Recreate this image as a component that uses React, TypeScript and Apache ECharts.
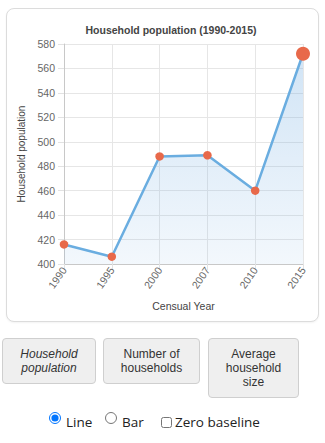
import React, { useEffect, useRef } from "react";
import * as echarts from "echarts";

const categories = ["1990", "1995", "2000", "2007", "2010", "2015"];
const householdPopulation = [416, 406, 488, 489, 460, 572];
const yTicks = { min: 400, max: 580, interval: 20 };
const titleText = "Household population (1990-2015)";
const yAxisName = "Household population";
const xAxisName = "Censual Year";

export default function App() {
  const ref = useRef<HTMLDivElement>(null);

  useEffect(() => {
    if (!ref.current) return;
    const chart = echarts.init(ref.current, null, { renderer: "svg" });
    const lastIdx = householdPopulation.length - 1;
    chart.setOption({
      animation: false,
      textStyle: { fontFamily: "Liberation Sans, Arial, sans-serif" },
      title: {
        text: titleText,
        left: 166,
        top: 19,
        textAlign: "center",
        textStyle: { fontSize: 10.5, fontWeight: "bold", color: "#444", fontFamily: "Liberation Sans, Arial, sans-serif" },
      },
      grid: { left: 64, right: 22, top: 44, bottom: 66, containLabel: false },
      xAxis: {
        type: "category",
        data: categories,
        boundaryGap: false,
        name: xAxisName,
        nameLocation: "middle",
        nameGap: 36,
        nameTextStyle: { fontSize: 10.5, color: "#444" },
        axisLine: { show: true, lineStyle: { color: "#c8c8c8", width: 1 } },
        axisTick: { show: true, length: 6, alignWithLabel: true, lineStyle: { color: "#e2e2e2" } },
        axisLabel: { rotate: 55, fontSize: 10.5, color: "#666", margin: 4, interval: 0 },
        splitLine: { show: true, lineStyle: { color: "#e6e6e6", width: 1 } },
      },
      yAxis: {
        type: "value",
        min: yTicks.min,
        max: yTicks.max,
        interval: yTicks.interval,
        name: yAxisName,
        nameLocation: "middle",
        nameGap: 33,
        nameTextStyle: { fontSize: 10, color: "#444" },
        axisLine: { show: true, lineStyle: { color: "#c8c8c8", width: 1 } },
        axisTick: { show: true, length: 6, lineStyle: { color: "#e2e2e2" } },
        axisLabel: { fontSize: 10.5, color: "#666", margin: 9 },
        splitLine: { show: true, lineStyle: { color: "#e6e6e6", width: 1 } },
      },
      series: [
        {
          type: "line",
          data: householdPopulation.map((v, i) =>
            i === lastIdx ? { value: v, symbolSize: 14 } : { value: v }
          ),
          symbol: "circle",
          symbolSize: 8.5,
          showAllSymbol: true,
          lineStyle: { color: "#6aade0", width: 2.5 },
          itemStyle: { color: "#e8694a", borderWidth: 0 },
          areaStyle: {
            color: new echarts.graphic.LinearGradient(0, 0, 0, 1, [
              { offset: 0, color: "rgba(110,170,225,0.45)" },
              { offset: 1, color: "rgba(110,170,225,0.12)" },
            ]),
          },
          z: 3,
        },
      ],
    });
    return () => chart.dispose();
  }, []);

  const btnBase: React.CSSProperties = {
    position: "absolute",
    top: 338,
    background: "#efefef",
    border: "1px solid #cfcfcf",
    borderRadius: 4,
    fontFamily: "Liberation Sans, Arial, sans-serif",
    fontSize: 12,
    lineHeight: "14px",
    color: "#333",
    padding: "0 6px",
    textAlign: "center",
    boxSizing: "border-box",
  };

  const labelFont: React.CSSProperties = {
    position: "absolute",
    top: 413,
    fontFamily: "Open Sans, Noto Sans, sans-serif",
    fontSize: 13.5,
    lineHeight: "18px",
    color: "#222",
    whiteSpace: "nowrap",
  };

  return (
    <div style={{ position: "absolute", left: 0, top: 0, width: 325, height: 443, background: "#fff", overflow: "hidden" }}>
      <div
        style={{
          position: "absolute",
          left: 6,
          top: 8,
          width: 313,
          height: 314,
          boxSizing: "border-box",
          border: "1px solid #dcdcdc",
          borderRadius: 8,
          background: "#fff",
          boxShadow: "0 1px 2px rgba(0,0,0,0.05)",
        }}
      />
      <div ref={ref} style={{ position: "absolute", left: 0, top: 0, width: 325, height: 330 }} />
      <button style={{ ...btnBase, left: 2, width: 94, height: 46, fontStyle: "italic" }}>
        Household
        <br />
        population
      </button>
      <button style={{ ...btnBase, left: 103, width: 97, height: 46 }}>
        Number of
        <br />
        households
      </button>
      <button style={{ ...btnBase, left: 208, width: 91, height: 60 }}>
        Average
        <br />
        household
        <br />
        size
      </button>
      <input
        type="radio"
        name="mode"
        defaultChecked
        style={{ position: "absolute", left: 49, top: 412, width: 12, height: 12, margin: 0 }}
      />
      <span style={{ ...labelFont, left: 66 }}>Line</span>
      <input
        type="radio"
        name="mode"
        style={{ position: "absolute", left: 105, top: 412, width: 12, height: 12, margin: 0 }}
      />
      <span style={{ ...labelFont, left: 122 }}>Bar</span>
      <input
        type="checkbox"
        style={{ position: "absolute", left: 161, top: 417, width: 11, height: 11, margin: 0 }}
      />
      <span style={{ ...labelFont, left: 175 }}>Zero baseline</span>
    </div>
  );
}
